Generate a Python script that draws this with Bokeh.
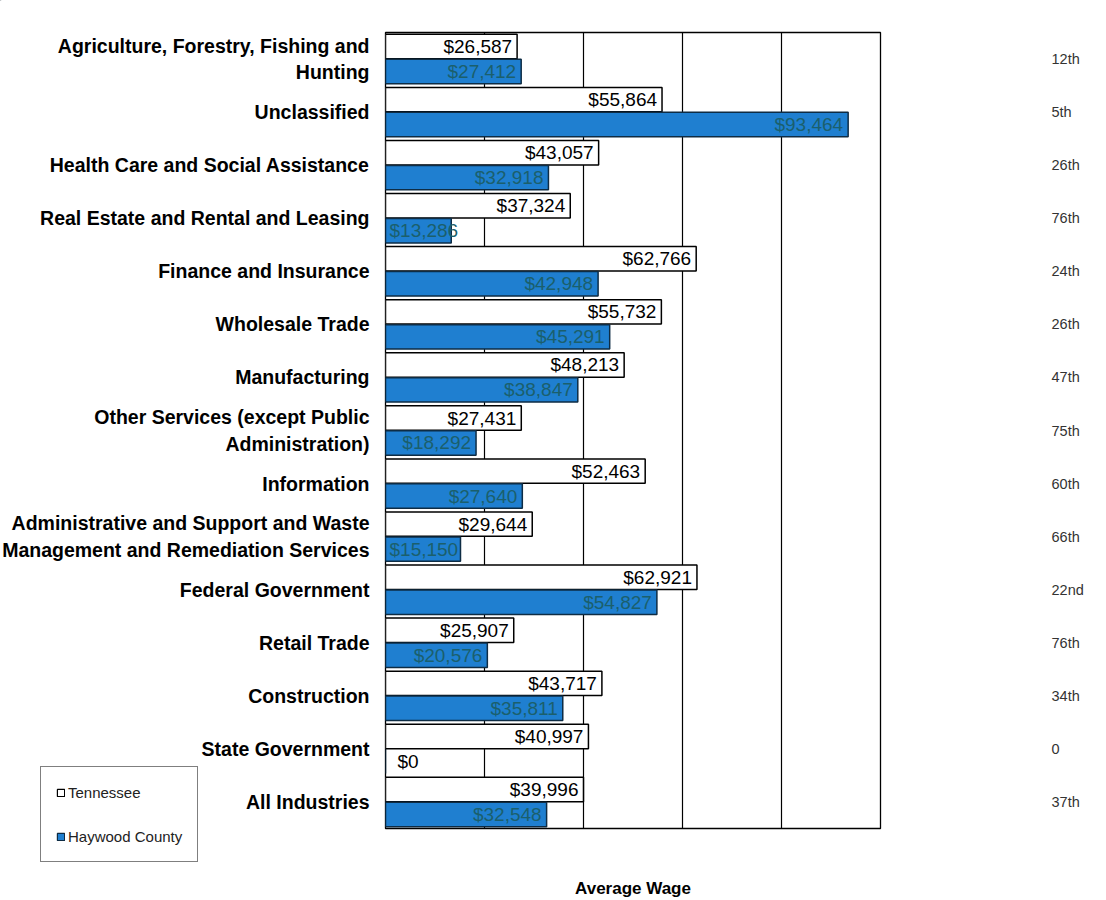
from bokeh.plotting import figure
from bokeh.layouts import row
from bokeh.models import (ColumnDataSource, LinearAxis, Legend, LegendItem,
                          SingleIntervalTicker, FixedTicker, Range1d)
from bokeh.transform import dodge
from bokeh.core.properties import value
from bokeh.embed import file_html
from bokeh.resources import INLINE

industries = [
    "Agriculture, Forestry, Fishing and\nHunting",
    "Unclassified",
    "Health Care and Social Assistance",
    "Real Estate and Rental and Leasing",
    "Finance and Insurance",
    "Wholesale Trade",
    "Manufacturing",
    "Other Services (except Public\nAdministration)",
    "Information",
    "Administrative and Support and Waste\nManagement and Remediation Services",
    "Federal Government",
    "Retail Trade",
    "Construction",
    "State Government",
    "All Industries",
]
tennessee = [26587, 55864, 43057, 37324, 62766, 55732, 48213, 27431, 52463,
             29644, 62921, 25907, 43717, 40997, 39996]
haywood = [27412, 93464, 32918, 13286, 42948, 45291, 38847, 18292, 27640,
           15150, 54827, 20576, 35811, 0, 32548]
ranks = ["12th", "5th", "26th", "76th", "24th", "26th", "47th", "75th", "60th",
         "66th", "22nd", "76th", "34th", "0", "37th"]

FONT = "Liberation Sans"
BLUE = "#1f7fd0"
TEAL = "#1b5f6c"

# layout constants (pixels)
H = 900
TOP, BOTTOM = 32, 72           # main frame borders
LEFT_W = 383                   # label column width
FRAME_W = 495
RIGHT_B = 226
X_MAX = 100000

n = len(industries)
pos = [n - 1 - i for i in range(n)]          # first industry at the top
px_per_unit = FRAME_W / X_MAX
LABEL_PX = 80                                 # approx width of a "$00,000" label
fits = [v * px_per_unit >= LABEL_PX for v in haywood]

src = ColumnDataSource(dict(
    pos=pos,
    tn=tennessee,
    hw=haywood,
    hw_x=[v if f else 0 for v, f in zip(haywood, fits)],
    tn_lbl=[f"${v:,}" for v in tennessee],
    hw_lbl=[f"${v:,}" for v in haywood],
    hw_align=["right" if f else "left" for f in fits],
    hw_off=[-5 if f else (12 if v == 0 else 4) for v, f in zip(haywood, fits)],
    hw_col=["black" if v == 0 else TEAL for v in haywood],
))

# ---------------- main chart ----------------
pm = figure(width=2 + FRAME_W + RIGHT_B, height=H,
            x_range=Range1d(0, X_MAX), y_range=Range1d(-0.5, n - 0.5),
            output_backend="svg", toolbar_location=None,
            y_axis_location=None,
            min_border_left=2, min_border_top=TOP,
            min_border_right=RIGHT_B, min_border_bottom=BOTTOM)
pm.frame_align = False

pm.outline_line_color = "black"
pm.outline_line_width = 1.3
pm.ygrid.grid_line_color = None

pm.xaxis.ticker = FixedTicker(ticks=[])
pm.xgrid.ticker = SingleIntervalTicker(interval=20000)
pm.xgrid.grid_line_color = "black"
pm.xgrid.grid_line_width = 1.2
pm.xaxis.major_tick_line_color = None
pm.xaxis.minor_tick_line_color = None
pm.xaxis.axis_line_color = "black"
pm.xaxis.axis_label = "Average Wage"
pm.xaxis.axis_label_text_font = FONT
pm.xaxis.axis_label_text_font_style = "bold"
pm.xaxis.axis_label_text_font_size = "17px"
pm.xaxis.axis_label_standoff = 50
pm.xaxis.axis_label_text_color = "black"

pm.hbar(y=dodge("pos", 0.235), right="tn", left=0, height=0.46, source=src,
        fill_color="white", line_color="black", line_width=1.5)
pm.hbar(y=dodge("pos", -0.235), right="hw", left=0, height=0.46, source=src,
        fill_color=BLUE, line_color="#0e2c44", line_width=1.5)

pm.text(x="tn", y=dodge("pos", 0.235), text="tn_lbl", source=src,
        text_align="right", text_baseline="middle", x_offset=-5,
        text_font=value(FONT), text_font_size="19px", text_color="black")
pm.text(x="hw_x", y=dodge("pos", -0.235), text="hw_lbl", source=src,
        text_align="hw_align", text_baseline="middle", x_offset="hw_off",
        text_font=value(FONT), text_font_size="19px", text_color="hw_col")

rax = LinearAxis(ticker=FixedTicker(ticks=pos),
                 major_label_overrides=dict(zip(pos, ranks)),
                 axis_line_color=None, major_tick_line_color=None,
                 minor_tick_line_color=None,
                 major_label_standoff=165,
                 major_label_text_font=FONT,
                 major_label_text_font_size="14.5px",
                 major_label_text_color="#333333")
pm.add_layout(rax, "right")

# ---------------- label column + legend ----------------
frame_h = H - TOP - BOTTOM
ppu_y = frame_h / n
lf = figure(width=LEFT_W, height=H,
            x_range=Range1d(0, 1),
            y_range=Range1d(-0.5 - BOTTOM / ppu_y, n - 0.5 + TOP / ppu_y),
            output_backend="svg", toolbar_location=None,
            x_axis_location=None, y_axis_location=None,
            min_border=0, outline_line_color=None)
lf.frame_align = False
lf.grid.visible = False

lf.text(x=[lf.x_range.end] * n, y=pos, text=industries,
        text_align="right", text_baseline="middle", x_offset=-14,
        text_font=value(FONT), text_font_style="bold",
        text_font_size="19.5px", text_color="black")

# zero-size swatch renderers (outside the visible range) for the legend
off = [lf.y_range.end + 1]
leg_tn = lf.hbar(y=off, left=[0], right=[0], height=0, fill_color="white",
                 line_color="black", line_width=1.2)
leg_hw = lf.hbar(y=off, left=[0], right=[0], height=0, fill_color=BLUE,
                 line_color="#0e2c44", line_width=1.2)

legend = Legend(items=[LegendItem(label="Tennessee", renderers=[leg_tn]),
                       LegendItem(label="Haywood County", renderers=[leg_hw])],
                location=(40, 38),
                border_line_color="black", border_line_width=1.2,
                background_fill_color="white", background_fill_alpha=1,
                label_text_font=FONT, label_text_font_size="15px",
                label_text_color="#222222",
                glyph_width=9, glyph_height=9, label_standoff=3,
                label_height=20, spacing=24, padding=15, margin=0)
lf.add_layout(legend)

layout = row(lf, pm)
open("out.html", "w").write(file_html(layout, INLINE))
